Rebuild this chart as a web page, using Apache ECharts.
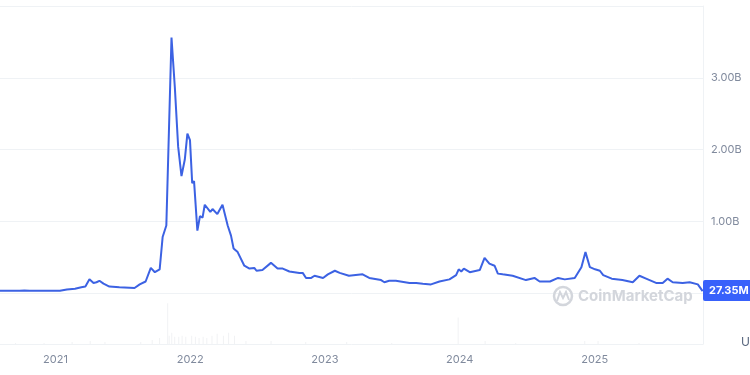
<!DOCTYPE html>
<html>
<head>
<meta charset="utf-8">
<script src="https://cdn.jsdelivr.net/npm/echarts@6/dist/echarts.min.js"></script>
<style>
html,body{margin:0;padding:0;background:#fff;}
#chart{width:750px;height:375px;}
</style>
</head>
<body>
<div id="chart"></div>
<script>
// ---- data ----
const dates = [
"2020-08-05","2020-09-27","2020-10-10","2020-10-24","2021-01-14","2021-02-02","2021-02-24","2021-03-13","2021-03-24",
"2021-04-04","2021-04-15","2021-04-23","2021-05-01","2021-05-12","2021-05-28","2021-06-24","2021-08-04","2021-08-18",
"2021-09-03","2021-09-17","2021-09-28","2021-10-11","2021-10-19","2021-10-29","2021-11-12","2021-11-21","2021-11-30",
"2021-12-09","2021-12-18","2021-12-25","2022-01-01","2022-01-07","2022-01-12","2022-01-21","2022-01-28","2022-02-04",
"2022-02-10","2022-02-25","2022-03-03","2022-03-16","2022-03-30","2022-04-13","2022-04-22","2022-04-29","2022-05-10",
"2022-05-28","2022-06-11","2022-06-24","2022-06-30","2022-07-16","2022-08-08","2022-08-26","2022-09-09","2022-09-27",
"2022-10-24","2022-11-02","2022-11-11","2022-11-25","2022-12-04","2022-12-27","2023-01-09","2023-01-28","2023-02-10",
"2023-03-07","2023-04-13","2023-05-01","2023-06-02","2023-06-11","2023-06-24","2023-07-12","2023-08-18","2023-09-05",
"2023-09-23","2023-10-15","2023-11-07","2023-12-04","2023-12-22","2023-12-29","2024-01-05","2024-01-12","2024-01-28",
"2024-02-15","2024-02-24","2024-03-08","2024-03-21","2024-04-04","2024-04-13","2024-04-26","2024-05-23","2024-06-28",
"2024-07-21","2024-08-04","2024-09-01","2024-09-23","2024-10-11","2024-11-07","2024-11-25","2024-12-06","2024-12-18",
"2025-01-01","2025-01-14","2025-01-23","2025-02-15","2025-03-16","2025-04-13","2025-05-01","2025-05-19","2025-06-15",
"2025-07-03","2025-07-16","2025-07-30","2025-08-26","2025-09-14","2025-10-06","2025-10-19"
];
const marketCapB = [
0.03,0.03,0.035,0.03,0.03,0.05,0.06,0.08,0.09,
0.19,0.14,0.15,0.17,0.13,0.09,0.08,0.07,0.12,
0.16,0.35,0.29,0.33,0.78,0.94,3.56,2.87,2.04,
1.63,1.86,2.22,2.13,1.53,1.56,0.87,1.07,1.05,
1.23,1.13,1.17,1.10,1.23,0.94,0.80,0.62,0.57,
0.38,0.34,0.35,0.31,0.32,0.42,0.34,0.34,0.30,
0.28,0.28,0.21,0.21,0.24,0.21,0.26,0.31,0.28,
0.24,0.26,0.21,0.18,0.15,0.17,0.17,0.14,0.14,
0.13,0.12,0.16,0.19,0.25,0.33,0.30,0.34,0.29,
0.31,0.32,0.49,0.41,0.38,0.27,0.26,0.24,0.18,
0.21,0.16,0.16,0.21,0.19,0.21,0.36,0.57,0.36,
0.33,0.31,0.25,0.20,0.18,0.15,0.24,0.20,0.14,
0.14,0.20,0.15,0.14,0.15,0.12,0.0273
];
const volDates = [
"2020-09-15","2020-12-01","2021-02-15","2021-04-05","2021-05-15","2021-08-20","2021-09-20","2021-10-10","2021-11-01",
"2021-11-05","2021-11-12","2021-11-20","2021-12-01","2021-12-10","2021-12-20","2022-01-05","2022-01-15","2022-01-25",
"2022-02-05","2022-02-15","2022-03-01","2022-03-15","2022-04-01","2022-04-15","2022-05-01","2022-06-01","2022-08-08",
"2022-11-10","2023-03-01","2023-07-01","2023-12-28","2024-03-10","2024-06-01","2024-12-05","2025-01-10","2025-05-01"
];
const volumeB = [
1,1,2,3,2,2,4,6,40,
8,11,7,7,8,7,8,7,6,
7,6,8,10,8,11,8,3,3,
2,2,1,26,3,1,3,3,1
];
const yTicksB = [1,2,3];
const xStart = "2020-08-05";
const xEnd = "2025-10-20";
const lastLabel = "27.35M";

const chart = echarts.init(document.getElementById('chart'), null, {renderer:'canvas'});
const lineData = dates.map((d,i)=>[d, marketCapB[i]]);
const volData = volDates.map((d,i)=>[d, volumeB[i]]);
const gridColor = '#eff2f5';
const labelColor = '#808a9d';
const font = 'Inter, "Noto Sans", sans-serif';

chart.setOption({
  animation:false,
  backgroundColor:'#ffffff',
  grid:[
    {left:0, right:47, top:6, bottom:82},
    {left:0, right:47, top:293, bottom:31}
  ],
  xAxis:[
    {type:'time', gridIndex:0, min:xStart, max:xEnd, show:true,
     axisLine:{show:false}, axisTick:{show:false}, axisLabel:{show:false}, splitLine:{show:false}},
    {type:'time', gridIndex:1, min:xStart, max:xEnd, splitNumber:5,
     minInterval:365*24*3600*1000,
     axisLine:{show:true, lineStyle:{color:gridColor, width:1}},
     axisTick:{show:false},
     axisLabel:{formatter:'{yyyy}', color:labelColor, fontSize:11, fontFamily:font, margin:10, fontWeight:'normal'},
     splitLine:{show:false}}
  ],
  yAxis:[
    {type:'value', gridIndex:0, position:'right', min:0, max:4, interval:1,
     axisLine:{show:true, lineStyle:{color:gridColor}},
     axisTick:{show:false},
     axisLabel:{color:labelColor, fontSize:11, fontFamily:font, margin:8,
       formatter:function(v){ return yTicksB.indexOf(v)>=0 ? v.toFixed(2)+'B' : ''; }},
     splitLine:{show:true, lineStyle:{color:gridColor, width:1}}},
    {type:'value', gridIndex:1, position:'right', min:0, max:50,
     axisLine:{show:true, lineStyle:{color:gridColor}},
     axisTick:{show:false}, axisLabel:{show:false}, splitLine:{show:false}}
  ],
  series:[
    {type:'bar', xAxisIndex:1, yAxisIndex:1, data:volData, barWidth:1,
     itemStyle:{color:'#f1f2f4'}, silent:true, z:1},
    {type:'line', xAxisIndex:0, yAxisIndex:0, data:lineData, showSymbol:false,
     lineStyle:{color:'#3c62e3', width:2}, z:5}
  ]
});

// price tag on right axis and watermark
const lastPt = chart.convertToPixel({xAxisIndex:0, yAxisIndex:0}, lineData[lineData.length-1]);
const tagY = lastPt[1];
chart.setOption({
  graphic:[
    {type:'rect', shape:{x:703, y:tagY-11, width:50, height:21, r:2}, style:{fill:'#3861fb'}, z:20},
    {type:'text', x:709, y:tagY, style:{text:lastLabel, fill:'#ffffff', fontSize:11, fontWeight:'bold', fontFamily:font, verticalAlign:'middle', align:'left'}, z:21},
    {type:'circle', shape:{cx:563, cy:296, r:9}, style:{fill:'none', stroke:'#d3d6dc', lineWidth:2.5}, z:3},
    {type:'polyline', shape:{points:[[557,301],[560,292],[563,298],[566,292],[569,300]]}, style:{fill:'none', stroke:'#d3d6dc', lineWidth:2}, z:3},
    {type:'text', x:578, y:296, style:{text:'CoinMarketCap', fill:'#d3d6dc', fontSize:15, fontWeight:'bold', fontFamily:font, verticalAlign:'middle'}, z:3},
    {type:'text', x:741, y:342, style:{text:'USD', fill:'#58667e', fontSize:12, fontFamily:font, verticalAlign:'middle'}, z:3}
  ]
});
</script>
</body>
</html>
